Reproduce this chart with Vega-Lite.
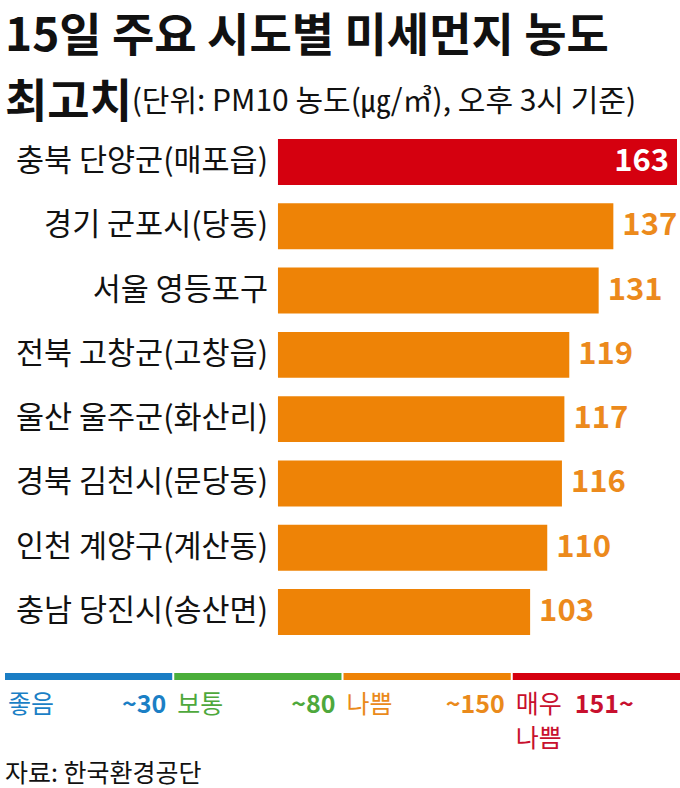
{
  "$schema": "https://vega.github.io/schema/vega-lite/v6.json",
  "background": "white",
  "padding": {"left": 5, "top": 14, "right": 0, "bottom": 0},
  "title": {
    "text": ["15일 주요 시도별 미세먼지 농도", "최고치"],
    "subtitle": "\u200b\u3000\u3000\u3000\u3000\u00a0(단위: PM10 농도(㎍/㎥), 오후 3시 기준)",
    "anchor": "start",
    "font": "Noto Sans CJK KR",
    "fontSize": 46,
    "fontWeight": "bold",
    "lineHeight": 66,
    "color": "#111111",
    "subtitleFont": "Noto Sans CJK KR",
    "subtitleFontSize": 30,
    "subtitleColor": "#111111",
    "subtitlePadding": -40,
    "offset": -14
  },
  "datasets": {
    "bars": [
      {"region": "충북 단양군(매포읍)", "value": 163, "grade": "매우 나쁨"},
      {"region": "경기 군포시(당동)", "value": 137, "grade": "나쁨"},
      {"region": "서울 영등포구", "value": 131, "grade": "나쁨"},
      {"region": "전북 고창군(고창읍)", "value": 119, "grade": "나쁨"},
      {"region": "울산 울주군(화산리)", "value": 117, "grade": "나쁨"},
      {"region": "경북 김천시(문당동)", "value": 116, "grade": "나쁨"},
      {"region": "인천 계양구(계산동)", "value": 110, "grade": "나쁨"},
      {"region": "충남 당진시(송산면)", "value": 103, "grade": "나쁨"}
    ],
    "legend": [
      {"grade": "좋음", "label": "좋음", "threshold": "~30"},
      {"grade": "보통", "label": "보통", "threshold": "~80"},
      {"grade": "나쁨", "label": "나쁨", "threshold": "~150"},
      {"grade": "매우 나쁨", "label": "매우\n나쁨", "threshold": "151~"}
    ]
  },
  "spacing": 12,
  "resolve": {"scale": {"x": "independent", "y": "independent", "color": "shared", "fill": "shared"}},
  "vconcat": [
    {
      "width": 672,
      "height": 548,
      "data": {"name": "bars"},
      "encoding": {
        "y": {
          "field": "region", "type": "nominal", "sort": null,
          "scale": {"paddingInner": 0.286, "paddingOuter": 0.404},
          "axis": null
        }
      },
      "layer": [
        {
          "mark": {"type": "bar"},
          "encoding": {
            "x": {"field": "value", "type": "quantitative", "scale": {"domain": [-111.5, 163], "nice": false, "zero": true}, "axis": null},
            "color": {
              "field": "grade", "type": "nominal",
              "scale": {"domain": ["좋음", "보통", "나쁨", "매우 나쁨"], "range": ["#1a7dc4", "#4aae3a", "#ee8306", "#d5000f"]},
              "legend": null
            }
          }
        },
        {
          "mark": {"type": "text", "align": "right", "baseline": "middle", "dx": -10, "font": "Noto Sans CJK KR", "fontSize": 30.5, "color": "#111111"},
          "encoding": {
            "x": {"datum": 0, "type": "quantitative"},
            "text": {"field": "region", "type": "nominal"}
          }
        },
        {
          "transform": [{"filter": "datum.grade === '매우 나쁨'"}],
          "mark": {"type": "text", "align": "right", "baseline": "middle", "dx": -8, "font": "Noto Sans CJK KR", "fontSize": 31, "fontWeight": "bold", "color": "white"},
          "encoding": {
            "x": {"field": "value", "type": "quantitative"},
            "text": {"field": "value", "type": "quantitative"}
          }
        },
        {
          "transform": [{"filter": "datum.grade !== '매우 나쁨'"}],
          "mark": {"type": "text", "align": "left", "baseline": "middle", "dx": 9, "font": "Noto Sans CJK KR", "fontSize": 31, "fontWeight": "bold", "color": "#ec8a1c"},
          "encoding": {
            "x": {"field": "value", "type": "quantitative"},
            "text": {"field": "value", "type": "quantitative"}
          }
        }
      ]
    },
    {
      "width": 675,
      "height": 7,
      "data": {"name": "legend"},
      "mark": {"type": "rect"},
      "encoding": {
        "x": {"field": "grade", "type": "nominal", "sort": null, "scale": {"type": "band", "paddingInner": 0.012, "paddingOuter": 0}, "axis": null},
        "color": {
          "field": "grade", "type": "nominal",
          "scale": {"domain": ["좋음", "보통", "나쁨", "매우 나쁨"], "range": ["#1a7dc4", "#4aae3a", "#ee8306", "#d5000f"]},
          "legend": null
        }
      }
    },
    {
      "width": 675,
      "height": 2,
      "data": {"name": "legend"},
      "title": {"text": "자료: 한국환경공단", "orient": "bottom", "anchor": "start", "font": "Noto Sans CJK KR", "fontSize": 25, "fontWeight": "normal", "color": "#111111", "offset": 10},
      "encoding": {
        "x": {"field": "grade", "type": "nominal", "sort": null, "bandPosition": 0, "scale": {"type": "band", "paddingInner": 0.012, "paddingOuter": 0}, "axis": null},
        "fill": {
          "field": "grade", "type": "nominal",
          "scale": {"domain": ["좋음", "보통", "나쁨", "매우 나쁨"], "range": ["#1b7fc5", "#4ea83c", "#ea8a1b", "#c8102e"]},
          "legend": null
        }
      },
      "layer": [
        {
          "mark": {"type": "text", "align": "left", "baseline": "top", "dx": 3, "font": "Noto Sans CJK KR", "fontSize": 25, "lineBreak": "\n", "lineHeight": 34},
          "encoding": {"text": {"field": "label", "type": "nominal"}}
        },
        {
          "transform": [{"filter": "datum.grade !== '매우 나쁨'"}],
          "mark": {"type": "text", "align": "right", "baseline": "top", "dx": -6, "font": "Noto Sans CJK KR", "fontSize": 25, "fontWeight": "bold"},
          "encoding": {
            "x": {"field": "grade", "type": "nominal", "sort": null, "bandPosition": 1, "scale": {"type": "band", "paddingInner": 0.012, "paddingOuter": 0}, "axis": null},
            "text": {"field": "threshold", "type": "nominal"}
          }
        },
        {
          "transform": [{"filter": "datum.grade === '매우 나쁨'"}],
          "mark": {"type": "text", "align": "left", "baseline": "top", "dx": 62, "font": "Noto Sans CJK KR", "fontSize": 25, "fontWeight": "bold"},
          "encoding": {"text": {"field": "threshold", "type": "nominal"}}
        }
      ]
    }
  ],
  "config": {"view": {"stroke": null}, "font": "Noto Sans CJK KR"}
}
